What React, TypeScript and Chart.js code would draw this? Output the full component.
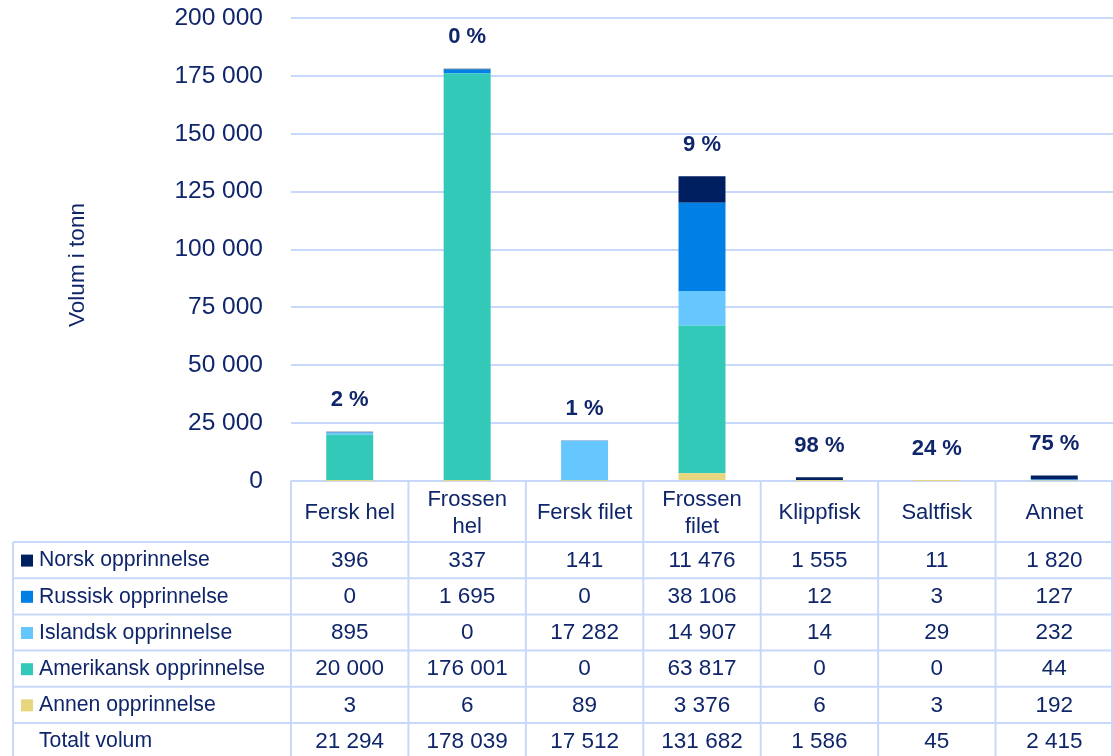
import React, { useEffect, useRef } from "react";
import { Chart, registerables } from "chart.js";

Chart.register(...registerables);

const categories = ["Fersk hel", "Frossen hel", "Fersk filet", "Frossen filet", "Klippfisk", "Saltfisk", "Annet"];
const headerLines = [["Fersk hel"], ["Frossen", "hel"], ["Fersk filet"], ["Frossen", "filet"], ["Klippfisk"], ["Saltfisk"], ["Annet"]];

const norsk = [396, 337, 141, 11476, 1555, 11, 1820];
const russisk = [0, 1695, 0, 38106, 12, 3, 127];
const islandsk = [895, 0, 17282, 14907, 14, 29, 232];
const amerikansk = [20000, 176001, 0, 63817, 0, 0, 44];
const annen = [3, 6, 89, 3376, 6, 3, 192];
const totalt = [21294, 178039, 17512, 131682, 1586, 45, 2415];
const norskShare = ["2 %", "0 %", "1 %", "9 %", "98 %", "24 %", "75 %"];

const yTicks = [0, 25000, 50000, 75000, 100000, 125000, 150000, 175000, 200000];

const NAVY_TEXT = "#10266b";
const GRID = "#c8d8fa";
const FONT = "'Liberation Sans', Arial, sans-serif";

const seriesDefs = [
  { label: "Annen opprinnelse", data: annen, color: "#e8d67e" },
  { label: "Amerikansk opprinnelse", data: amerikansk, color: "#33c9b8" },
  { label: "Islandsk opprinnelse", data: islandsk, color: "#66c6fe" },
  { label: "Russisk opprinnelse", data: russisk, color: "#0080e4" },
  { label: "Norsk opprinnelse", data: norsk, color: "#001f60" },
];

const tableRows = [
  { label: "Norsk opprinnelse", data: norsk, color: "#001f60" },
  { label: "Russisk opprinnelse", data: russisk, color: "#0080e4" },
  { label: "Islandsk opprinnelse", data: islandsk, color: "#66c6fe" },
  { label: "Amerikansk opprinnelse", data: amerikansk, color: "#33c9b8" },
  { label: "Annen opprinnelse", data: annen, color: "#e8d67e" },
  { label: "Totalt volum", data: totalt, color: null as string | null },
];

function fmt(n: number): string {
  return String(n).replace(/\B(?=(\d{3})+(?!\d))/g, " ");
}

const tablePlugin = {
  id: "tablePlugin",
  afterDraw(chart: any) {
    const ctx = chart.ctx as CanvasRenderingContext2D;
    const xs = chart.scales.x;
    const ys = chart.scales.y;
    const area = chart.chartArea;
    const n = categories.length;
    const step = xs.getPixelForValue(1) - xs.getPixelForValue(0);
    const half = step / 2;
    const tableTop = ys.getPixelForValue(0);
    const headerBottom = tableTop + 61;
    const rowH = 36.2;
    const leftEdge = 13;
    const bottom = chart.height + 10;

    ctx.save();
    // percent labels
    ctx.fillStyle = NAVY_TEXT;
    ctx.font = `bold 22px ${FONT}`;
    ctx.textAlign = "center";
    ctx.textBaseline = "middle";
    for (let i = 0; i < n; i++) {
      const topY = ys.getPixelForValue(totalt[i]);
      ctx.fillText(norskShare[i], xs.getPixelForValue(i), topY - 31.5);
    }

    // y title
    ctx.save();
    ctx.translate(78, 265);
    ctx.rotate(-Math.PI / 2);
    ctx.font = `22.5px ${FONT}`;
    ctx.fillText("Volum i tonn", 0, 0);
    ctx.restore();

    // table lines
    ctx.strokeStyle = GRID;
    ctx.lineWidth = 2;
    ctx.beginPath();
    for (let i = 0; i <= n; i++) {
      const x = Math.min(xs.getPixelForValue(i) - half, chart.width - 1);
      ctx.moveTo(x, tableTop);
      ctx.lineTo(x, bottom);
    }
    ctx.moveTo(leftEdge, headerBottom);
    ctx.lineTo(leftEdge, bottom);
    for (let r = 0; r < tableRows.length; r++) {
      const y = headerBottom + r * rowH;
      ctx.moveTo(leftEdge, y);
      ctx.lineTo(area.right, y);
    }
    ctx.stroke();

    // header text
    ctx.fillStyle = NAVY_TEXT;
    ctx.font = `22px ${FONT}`;
    ctx.textAlign = "center";
    ctx.textBaseline = "middle";
    const headerMid = (tableTop + headerBottom) / 2;
    for (let i = 0; i < n; i++) {
      const cx = xs.getPixelForValue(i);
      const lines = headerLines[i];
      if (lines.length === 1) {
        ctx.fillText(lines[0], cx, headerMid + 1);
      } else {
        ctx.fillText(lines[0], cx, headerMid - 12);
        ctx.fillText(lines[1], cx, headerMid + 15);
      }
    }

    // rows
    for (let r = 0; r < tableRows.length; r++) {
      const row = tableRows[r];
      const cy = headerBottom + r * rowH + rowH / 2 + 0.5;
      if (row.color) {
        ctx.fillStyle = row.color;
        ctx.fillRect(21, cy - 6, 12, 12);
      }
      ctx.fillStyle = NAVY_TEXT;
      ctx.textAlign = "left";
      ctx.font = `21.2px ${FONT}`;
      ctx.fillText(row.label, 39, cy);
      ctx.textAlign = "center";
      ctx.font = `22.5px ${FONT}`;
      for (let i = 0; i < n; i++) {
        ctx.fillText(fmt(row.data[i]), xs.getPixelForValue(i), cy);
      }
    }
    ctx.restore();
  },
};

export default function App() {
  const ref = useRef<HTMLCanvasElement | null>(null);
  useEffect(() => {
    if (!ref.current) return;
    const chart = new Chart(ref.current, {
      type: "bar",
      data: {
        labels: categories,
        datasets: seriesDefs.map((s) => ({
          label: s.label,
          data: s.data,
          backgroundColor: s.color,
          borderWidth: 0,
          barPercentage: 0.4,
          categoryPercentage: 1,
        })),
      },
      options: {
        animation: false,
        responsive: false,
        maintainAspectRatio: false,
        layout: { padding: { top: 18, left: 0, right: 0, bottom: 0 } },
        plugins: {
          legend: { display: false },
          tooltip: { enabled: false },
          title: { display: false },
        },
        scales: {
          x: {
            stacked: true,
            grid: { display: false },
            border: { display: false },
            ticks: { display: false },
            afterFit: (s: any) => {
              s.height = 275;
              s.paddingLeft = 0;
              s.paddingRight = 0;
            },
          },
          y: {
            stacked: true,
            min: 0,
            max: 200000,
            afterBuildTicks: (s: any) => {
              s.ticks = yTicks.map((v) => ({ value: v }));
            },
            afterFit: (s: any) => {
              s.width = 291;
              s.paddingTop = 0;
              s.paddingBottom = 0;
            },
            grid: { color: GRID, lineWidth: 2, drawTicks: false },
            border: { display: false },
            ticks: {
              padding: 28,
              color: NAVY_TEXT,
              font: { family: FONT, size: 24.5 },
              callback: (v: any) => fmt(Number(v)),
            },
          },
        },
      },
      plugins: [tablePlugin],
    });
    return () => chart.destroy();
  }, []);
  return (
    <div style={{ position: "fixed", left: 0, top: 0, width: 1113, height: 756, background: "#fff" }}>
      <canvas ref={ref} width={1113} height={756} style={{ display: "block" }} />
    </div>
  );
}
